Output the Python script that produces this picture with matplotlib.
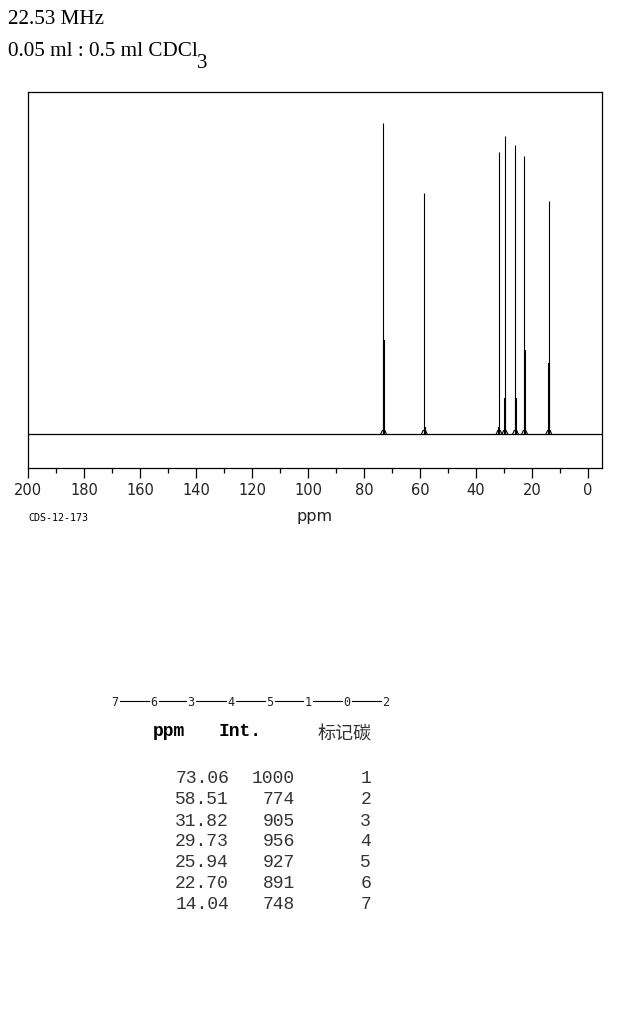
import matplotlib
matplotlib.use("Agg")
import matplotlib.pyplot as plt
from matplotlib.lines import Line2D

# peak table
ppm = [73.06, 58.51, 31.82, 29.73, 25.94, 22.70, 14.04]
intensity = [1000, 774, 905, 956, 927, 891, 748]
carbon = [1, 2, 3, 4, 5, 6, 7]
# lower, thicker part of each peak and its small foot
thick = [302, 22, 22, 116, 116, 270, 228]
foot = [10, 10, 10, 10, 10, 10, 10]

x_major = [200, 180, 160, 140, 120, 100, 80, 60, 40, 20, 0]
x_minor = [190, 170, 150, 130, 110, 90, 70, 50, 30, 10]
chain = ["7", "6", "3", "4", "5", "1", "0", "2"]
chain_x = [115, 154, 191, 231, 270, 308, 347, 386]

W, H = 638, 1020
fig = plt.figure(figsize=(W / 100, H / 100), dpi=100, facecolor="white")


def put(x, y, s, **kw):
    # pixel position, measured from the top left of the picture
    kw.setdefault("va", "center")
    kw.setdefault("color", "black")
    return fig.text(x / W, 1 - y / H, s, **kw)


# spectrum frame
ax = fig.add_axes([28 / W, 1 - 468.5 / H, 574 / W, 376 / H])
ax.set_xlim(200, -5)
ax.set_ylim(-109, 1100)
for s in ax.spines.values():
    s.set_linewidth(0.9)

ax.axhline(0, color="black", lw=0.9)
for p, i, t, f in zip(ppm, intensity, thick, foot):
    ax.vlines(p, 0, i, color="black", lw=0.8)
    ax.vlines(p - 0.15, 0, t, color="black", lw=1.5)
    ax.plot([p + 0.9, p + 0.4, p - 0.5, p - 1.0], [0, f, f, 0], color="black", lw=0.8)

ax.set_yticks([])
ax.set_xticks(x_major)
ax.set_xticks(x_minor, minor=True)
ax.tick_params(axis="x", which="major", length=7.2, width=0.9, pad=3, labelsize=10.5)
ax.tick_params(axis="x", which="minor", length=3.6, width=0.9)
for lab in ax.get_xticklabels():
    lab.set_fontfamily("DejaVu Sans")
    lab.set_color("#222222")

# header
put(8, 19, "22.53 MHz", family="Liberation Serif", fontsize=15.2)
put(8, 52, "0.05 ml : 0.5 ml CDCl", family="Liberation Serif", fontsize=15.2)
put(197, 63, "3", family="Liberation Serif", fontsize=15.2)

put(28, 518, "CDS-12-173", family="DejaVu Sans Mono", fontsize=7.2)
put(315, 517, "ppm", family="DejaVu Sans", fontsize=11.5, ha="center", color="#222222")

# structure line
for x, s in zip(chain_x, chain):
    put(x, 703, s, family="DejaVu Sans Mono", fontsize=8.5, ha="center", color="#222222")
for a, b in zip(chain_x[:-1], chain_x[1:]):
    fig.add_artist(Line2D([(a + 5) / W, (b - 5) / W], [1 - 702 / H, 1 - 702 / H],
                          color="black", lw=0.8))

# table
put(169, 732, "ppm", family="Liberation Mono", fontsize=13, weight="bold", ha="center")
put(240, 732, "Int.", family="Liberation Mono", fontsize=13, weight="bold", ha="center")
put(345, 735, "标记碳", family="Noto Sans CJK SC", fontsize=13, ha="center", color="#333333")

for n, (p, i, c) in enumerate(zip(ppm, intensity, carbon)):
    y = 779 + n * 21
    put(229, y, f"{p:.2f}", family="Liberation Mono", fontsize=13, ha="right", color="#333333")
    put(295, y, str(i), family="Liberation Mono", fontsize=13, ha="right", color="#333333")
    put(371, y, str(c), family="Liberation Mono", fontsize=13, ha="right", color="#333333")

fig.savefig("out.png", dpi=100)
